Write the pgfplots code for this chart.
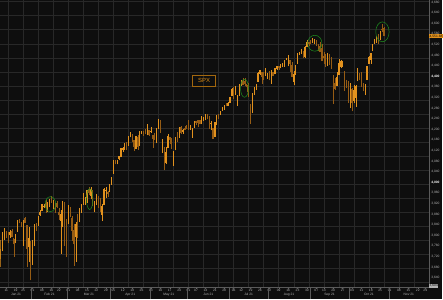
\documentclass[border=0pt]{standalone}
\usepackage{fontspec}
\setmainfont{Liberation Sans}
\usepackage{pgfplots}
\usepackage{pgfplotstable}
\pgfplotsset{compat=1.18}
\definecolor{bg}{RGB}{14,14,14}
\definecolor{gridc}{RGB}{40,40,40}
\definecolor{candleup}{RGB}{226,146,30}
\definecolor{candledown}{RGB}{150,92,20}
\definecolor{lbl}{RGB}{180,180,180}
\definecolor{axc}{RGB}{90,90,90}
\definecolor{circ}{RGB}{30,140,30}
\definecolor{spxc}{RGB}{216,138,18}
\pgfplotstableread{
i o h l c
0 3765 3770 3663 3701
1 3698 3738 3672 3727
2 3712 3783 3680 3748
3 3764 3811 3740 3804
4 3815 3827 3784 3825
5 3803 3818 3789 3800
6 3802 3811 3770 3801
7 3802 3821 3792 3810
8 3814 3824 3793 3796
9 3788 3788 3720 3768
10 3782 3805 3770 3799
11 3816 3860 3816 3852
12 3857 3861 3845 3853
13 3844 3852 3830 3841
14 3852 3859 3760 3855
15 3863 3871 3848 3850
16 3837 3837 3680 3751
17 3756 3831 3700 3787
18 3778 3778 3630 3714
19 3731 3784 3690 3774
20 3792 3843 3760 3826
21 3840 3848 3817 3830
22 3837 3872 3837 3872
23 3878 3895 3875 3887
24 3893 3916 3893 3916
25 3911 3918 3903 3911
26 3921 3932 3885 3910
27 3916 3926 3890 3916
28 3912 3937 3906 3935
29 3940 3950 3924 3933
30 3919 3934 3900 3931
31 3916 3922 3885 3914
32 3921 3930 3903 3907
33 3886 3903 3860 3877
34 3857 3896 3730 3881
35 3874 3929 3830 3925
36 3916 3925 3760 3829
37 3840 3861 3720 3811
38 3843 3915 3843 3902
39 3904 3906 3869 3870
40 3864 3875 3780 3820
41 3819 3844 3685 3768
42 3794 3852 3700 3842
43 3844 3881 3790 3821
44 3852 3904 3852 3875
45 3892 3917 3886 3899
46 3916 3960 3916 3939
47 3925 3945 3915 3943
48 3943 3970 3924 3969
49 3974 3981 3953 3963
50 3950 3984 3936 3974
51 3954 3970 3911 3915
52 3913 3930 3887 3913
53 3917 3955 3914 3941
54 3938 3949 3902 3911
55 3920 3942 3889 3889
56 3879 3920 3854 3910
57 3917 3978 3917 3975
58 3969 3982 3943 3971
59 3963 3968 3944 3959
60 3967 3994 3967 3973
61 3993 4021 3993 4020
62 4034 4083 4034 4078
63 4076 4086 4068 4074
64 4074 4083 4068 4080
65 4090 4098 4083 4097
66 4096 4130 4096 4129
67 4125 4132 4115 4128
68 4130 4148 4124 4142
69 4142 4152 4121 4125
70 4140 4174 4140 4170
71 4174 4191 4171 4185
72 4180 4181 4151 4163
73 4159 4159 4118 4135
74 4128 4175 4126 4173
75 4171 4180 4124 4135
76 4139 4194 4139 4180
77 4185 4194 4182 4188
78 4188 4193 4176 4187
79 4185 4202 4182 4183
80 4206 4219 4177 4211
81 4198 4198 4175 4181
82 4192 4209 4188 4193
83 4179 4179 4129 4165
84 4177 4188 4161 4168
85 4169 4203 4147 4202
86 4210 4238 4202 4233
87 4228 4236 4188 4188
88 4150 4162 4112 4152
89 4131 4135 4045 4063
90 4075 4132 4070 4113
91 4130 4183 4130 4174
92 4170 4172 4143 4163
93 4166 4169 4126 4128
94 4098 4117 4061 4116
95 4122 4173 4122 4159
96 4169 4189 4152 4156
97 4170 4210 4170 4197
98 4206 4213 4183 4188
99 4192 4203 4184 4196
100 4202 4213 4198 4201
101 4211 4218 4204 4204
102 4217 4234 4198 4202
103 4207 4217 4198 4208
104 4191 4204 4168 4193
105 4206 4233 4206 4230
106 4229 4232 4216 4227
107 4234 4237 4208 4227
108 4233 4237 4219 4220
109 4229 4250 4220 4239
110 4243 4248 4233 4247
111 4248 4256 4234 4255
112 4255 4257 4238 4247
113 4249 4252 4202 4224
114 4220 4232 4196 4222
115 4205 4205 4164 4166
116 4173 4226 4173 4225
117 4225 4256 4217 4246
118 4249 4257 4241 4242
119 4257 4271 4257 4266
120 4274 4286 4271 4281
121 4285 4292 4275 4291
122 4293 4301 4287 4292
123 4291 4302 4288 4298
124 4301 4321 4301 4320
125 4327 4355 4327 4352
126 4357 4357 4314 4344
127 4351 4362 4330 4358
128 4321 4331 4289 4321
129 4329 4372 4329 4370
130 4372 4387 4364 4385
131 4381 4392 4367 4369
132 4380 4394 4362 4374
133 4369 4369 4341 4360
134 4367 4375 4323 4327
135 4296 4296 4222 4258
136 4265 4337 4262 4323
137 4331 4360 4331 4359
138 4361 4370 4350 4367
139 4381 4415 4381 4412
140 4410 4423 4405 4422
141 4416 4416 4373 4401
142 4403 4416 4387 4401
143 4404 4430 4404 4419
144 4395 4412 4390 4395
145 4407 4422 4385 4387
146 4393 4424 4373 4423
147 4416 4416 4400 4403
148 4409 4430 4409 4429
149 4429 4441 4425 4437
150 4438 4439 4425 4432
151 4436 4445 4430 4437
152 4442 4449 4436 4448
153 4446 4462 4436 4461
154 4465 4468 4460 4468
155 4462 4480 4438 4480
156 4462 4462 4418 4448
157 4441 4454 4398 4400
158 4382 4419 4368 4406
159 4411 4444 4407 4442
160 4450 4490 4450 4480
161 4484 4493 4483 4486
162 4490 4502 4486 4496
163 4494 4496 4469 4470
164 4474 4513 4470 4509
165 4514 4537 4514 4529
166 4530 4531 4516 4523
167 4529 4537 4522 4524
168 4535 4546 4525 4537
169 4532 4541 4521 4535
170 4535 4535 4513 4520
171 4518 4522 4494 4514
172 4513 4530 4492 4493
173 4507 4521 4458 4459
174 4475 4493 4446 4469
175 4479 4486 4435 4443
176 4448 4487 4438 4481
177 4477 4486 4444 4474
178 4470 4472 4428 4433
179 4403 4403 4295 4358
180 4374 4395 4348 4354
181 4367 4417 4367 4396
182 4407 4465 4407 4449
183 4438 4463 4430 4455
184 4442 4457 4436 4443
185 4420 4420 4346 4353
186 4362 4386 4355 4359
187 4371 4383 4300 4308
188 4317 4375 4280 4357
189 4349 4356 4268 4300
190 4310 4369 4300 4346
191 4320 4366 4285 4364
192 4384 4430 4384 4400
193 4407 4412 4386 4391
194 4385 4416 4361 4361
195 4368 4375 4343 4351
196 4358 4373 4330 4364
197 4387 4440 4387 4438
198 4448 4476 4448 4471
199 4464 4489 4448 4486
200 4497 4520 4496 4520
201 4524 4541 4524 4536
202 4532 4551 4527 4550
203 4546 4560 4524 4545
204 4554 4573 4537 4566
205 4579 4598 4569 4575
206 4580 4585 4552 4552
}\spx
\begin{document}
\begin{tikzpicture}
\fill[bg] (0,0) rectangle (443bp,300bp);
\begin{axis}[
  at={(0,12bp)}, anchor=south west,
  width=430bp, height=288bp, scale only axis,
  xmin=1.8, xmax=229.9, ymin=3604, ymax=4687,
  axis x line*=bottom, axis y line*=right,
  axis line style={draw=axc, line width=0.4bp},
  clip mode=individual,
  /pgf/number format/assume math mode=true,
  /pgf/number format/fixed,
  /pgf/number format/precision=0,
  /pgf/number format/1000 sep={,},
  xtick={5,10,14,19,24,29,33,38,43,48,53,58,62,67,72,77,82,87,92,97,102,106,111,116,121,126,130,135,140,145,150,155,160,165,170,174,179,184,189,194,199,204,209,214,219,224,228},
  xticklabels={11,19,25,01,08,16,22,01,08,15,22,29,05,12,19,26,03,10,17,24,01,07,14,21,28,06,12,19,26,02,09,16,23,30,07,13,20,27,04,11,18,25,01,08,15,22,29},
  xticklabel style={font=\fontsize{3.3}{3.6}\selectfont, text=lbl, inner sep=0.6bp},
  extra x ticks={10.2,28,49,71,91.5,112.5,134,155.5,177,198,219.2},
  extra x tick labels={Jan 21,Feb 21,Mar 21,Apr 21,May 21,Jun 21,Jul 21,Aug 21,Sep 21,Oct 21,Nov 21},
  extra x tick style={major tick length=0pt, grid=none, xticklabel style={yshift=-4.8bp}},
  ytick={3640,3680,3720,3760,3800,3840,3880,3920,3960,4040,4080,4120,4160,4200,4240,4280,4320,4360,4440,4480,4520,4560,4600,4640,4680},
  extra y ticks={4000,4400},
  extra y tick style={grid=none, yticklabel style={text=white, font=\bfseries\fontsize{3.3}{3.6}\selectfont}},
  yticklabel style={font=\fontsize{3.3}{3.6}\selectfont, text=lbl, anchor=west, inner sep=0.8bp},
  tick align=outside, major tick length=1.5bp,
  tick style={draw=axc, line width=0.3bp},
  minor xtick={6,14,...,222},
  minor ytick={3622,3675,...,4682},
  minor tick length=0pt,
  grid=minor,
  minor grid style={draw=gridc, line width=0.5bp},
]
% down candles: wick and body as vertical segments
\addplot[forget plot, draw=candledown, line width=0.45bp, mark=none, -,
  quiver={u=0, v=\thisrow{h}-\thisrow{l}}]
  table[x expr={\thisrow{c}<\thisrow{o} ? \thisrow{i} : -100}, y=l] {\spx};
\addplot[forget plot, draw=candledown, line width=1.2bp, mark=none, -,
  quiver={u=0, v=\thisrow{o}-\thisrow{c}+3}]
  table[x expr={\thisrow{c}<\thisrow{o} ? \thisrow{i} : -100}, y expr={\thisrow{c}-1.5}] {\spx};
% up candles
\addplot[forget plot, draw=candleup, line width=0.45bp, mark=none, -,
  quiver={u=0, v=\thisrow{h}-\thisrow{l}}]
  table[x expr={\thisrow{c}>=\thisrow{o} ? \thisrow{i} : -100}, y=l] {\spx};
\addplot[forget plot, draw=candleup, line width=1.2bp, mark=none, -,
  quiver={u=0, v=\thisrow{c}-\thisrow{o}+3}]
  table[x expr={\thisrow{c}>=\thisrow{o} ? \thisrow{i} : -100}, y expr={\thisrow{o}-1.5}] {\spx};
% annotations
\draw[circ, line width=0.5bp] (axis cs:28.5,3918) ellipse [x radius=5.3bp, y radius=7.5bp];
\draw[circ, line width=0.5bp] (axis cs:49.4,3937) ellipse [x radius=3.2bp, y radius=10.5bp];
\draw[circ, line width=0.5bp] (axis cs:131.8,4355) ellipse [x radius=4bp, y radius=9bp];
\draw[circ, line width=0.5bp] (axis cs:169.2,4525) ellipse [x radius=7.2bp, y radius=8bp];
\draw[circ, line width=0.5bp] (axis cs:205.2,4568) ellipse [x radius=6.7bp, y radius=10bp];
\node[draw=spxc!75!black, line width=0.6bp, text=spxc, font=\fontsize{6}{7}\selectfont,
  minimum width=23bp, minimum height=11bp, inner sep=0pt] at (axis cs:110.3,4384) {SPX};
\pgfplotsinvokeforeach{18.5,37.5,60.5,81.5,101.5,123.5,144.5,166.5,187.5,208.5}{
  \draw[axc, line width=0.3bp] (axis cs:#1,3604) -- ([yshift=-12bp]axis cs:#1,3604);
}
\node[fill=candleup, text=black, font=\fontsize{3.3}{3.6}\selectfont, inner sep=0.6bp, anchor=west]
  at (axis cs:229.9,4551.68) {4,551.68};
\node[fill=lbl, text=black, font=\fontsize{3.3}{3.6}\selectfont, inner sep=0.6bp, anchor=west]
  at (axis cs:229.9,3609) {3,604};
\end{axis}
\end{tikzpicture}
\end{document}
